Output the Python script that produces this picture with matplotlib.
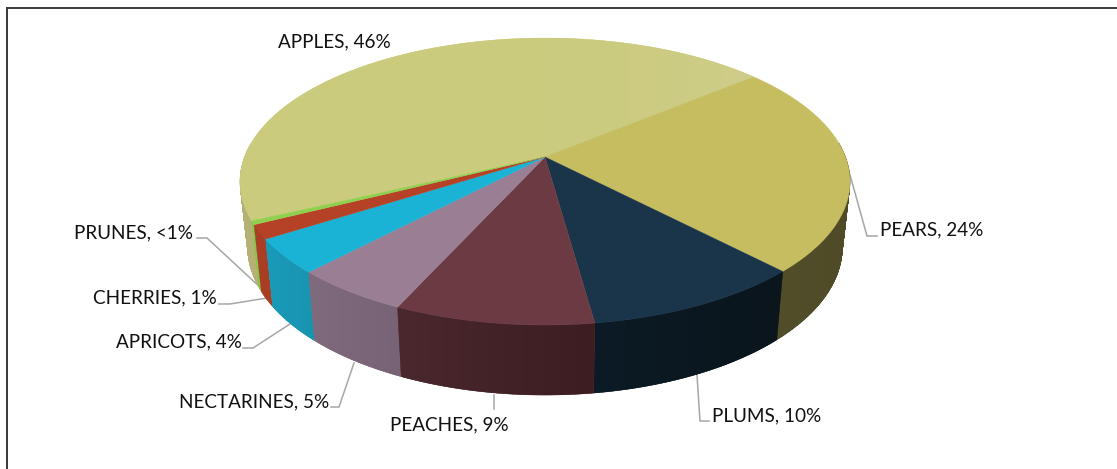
import numpy as np
import matplotlib
matplotlib.use("Agg")
import matplotlib.pyplot as plt
from matplotlib.colors import to_rgb
from matplotlib.patches import PathPatch
from matplotlib.path import Path

plt.rcParams['font.family'] = ['Lato', 'DejaVu Sans']

categories = ["APPLES", "PEARS", "PLUMS", "PEACHES", "NECTARINES", "APRICOTS", "CHERRIES", "PRUNES"]
values = [46.0, 23.8, 10.0, 9.0, 5.3, 3.9, 1.6, 0.4]
value_labels = ["46%", "24%", "10%", "9%", "5%", "4%", "1%", "<1%"]

# colours at the right and the left end of each face
top_right = ["#CFCD8A", "#C5BD60", "#1A344A", "#6B3A43", "#9A7E94", "#1AB3D5", "#B54226", "#8FD14F"]
top_left = ["#CBCB7E", "#C5BD60", "#1A344A", "#6B3A43", "#9A7E94", "#1AB3D5", "#B54226", "#8FD14F"]
side_right = ["#B5B175", "#4F4B28", "#0A151C", "#3D1D20", "#786275", "#1894B0", "#A83E23", "#85C64B"]
side_left = ["#B5B175", "#524E2A", "#0C1B25", "#4A282E", "#7F6A7E", "#1A9BBA", "#A83E23", "#85C64B"]

# layout: label text anchor (left, centre y) and leader polyline in pixels
label_pos = {"APPLES": (278, 41), "PEARS": (880, 229), "PLUMS": (712, 415), "PEACHES": (390, 424),
             "NECTARINES": (179, 401), "APRICOTS": (116, 341), "CHERRIES": (93, 297), "PRUNES": (74, 232)}
leaders = {"PEARS": [(847, 164), (867, 236), (877, 236)],
           "PLUMS": [(697, 375), (700, 421), (709, 421)],
           "PEACHES": [(494, 395), (494, 409)],
           "NECTARINES": [(354, 363), (339, 407), (331, 407)],
           "APRICOTS": [(290, 324), (253, 348), (243, 348)],
           "CHERRIES": [(267, 298), (230, 304), (219, 304)],
           "PRUNES": [(262, 289), (207, 238), (197, 238)]}

W, H = 1117, 469
fig = plt.figure(figsize=(W / 100, H / 100), dpi=100)
ax = fig.add_axes([0, 0, 1, 1])

cx, cy = 545.0, 157.0
a, b, k = 300.5, 139.3, 0.171
start = 205.2


def top_xy(t):
    s, c = np.sin(t), np.cos(t)
    w = 1 + k * s
    return cx + a * c / w, cy - b * s / w


def bot_xy(t):
    x, y = top_xy(t)
    return cx + 0.975 * (x - cx), 222 + 1.03 * (y - cy)


def ring(pts):
    """Closed sub-path, always wound the same way so that quads add up."""
    p = np.asarray(pts, float)
    area = np.sum(p[:, 0] * np.roll(p[:, 1], -1) - np.roll(p[:, 0], -1) * p[:, 1])
    return p if area > 0 else p[::-1]


def shaded(rings, left, right, z, power=1.0):
    verts, codes = [], []
    for r in rings:
        verts.extend(r)
        verts.append(r[0])
        codes.extend([Path.MOVETO] + [Path.LINETO] * (len(r) - 1) + [Path.CLOSEPOLY])
    path = Path(verts, codes)
    patch = PathPatch(path, facecolor=left, edgecolor=left, lw=0.3, zorder=z)
    ax.add_patch(patch)
    if left == right:
        return
    v = np.array(verts)
    c1, c2 = np.array(to_rgb(left)), np.array(to_rgb(right))
    f = np.linspace(0, 1, 256)[None, :, None] ** power
    img = c1 + (c2 - c1) * f
    im = ax.imshow(img, extent=(v[:, 0].min(), v[:, 0].max(), v[:, 1].max(), v[:, 1].min()),
                   origin="upper", aspect="auto", zorder=z + 0.001, interpolation="bilinear")
    im.set_clip_path(patch)


fracs = np.array(values) / sum(values)
edges = start - np.concatenate([[0], np.cumsum(fracs) * 360])

# side walls (only the part that faces the viewer), then the top face
order = sorted(range(len(values)), key=lambda i: -np.sin(np.radians((edges[i] + edges[i + 1]) / 2)))
for rank, i in enumerate(order):
    n = max(3, int(abs(edges[i] - edges[i + 1]) / 0.5))
    tt = np.radians(np.linspace(edges[i], edges[i + 1], n + 1))
    quads = []
    for j in range(n):
        if np.sin(tt[j]) > 0.1 and np.sin(tt[j + 1]) > 0.1:
            continue
        quads.append(ring([top_xy(tt[j]), top_xy(tt[j + 1]), bot_xy(tt[j + 1]), bot_xy(tt[j])]))
    shaded(quads, side_left[i], side_right[i], 2 + rank * 0.01)

for i in range(len(values)):
    tt = np.radians(np.linspace(edges[i], edges[i + 1], 200))
    xt, yt = top_xy(tt)
    wedge = np.column_stack([np.concatenate([[cx], xt]), np.concatenate([[cy], yt])])
    shaded([ring(wedge)], top_left[i], top_right[i], 3 + i * 0.01, power=5.0)

for name, pts in leaders.items():
    ax.plot(*zip(*pts), color="#A6A6A6", lw=1.1, zorder=1, solid_joinstyle="miter")

for name, val in zip(categories, value_labels):
    x, y = label_pos[name]
    ax.text(x, y + 1.0, f"{name}, {val}", ha="left", va="center", fontsize=13.6, color="#111111", zorder=5)

# chart frame: left and top only are inside the crop
ax.plot([7, 7, W], [H, 8, 8], color="#3A3A3A", lw=1.4, zorder=6, solid_joinstyle="miter")

ax.set_xlim(0, W)
ax.set_ylim(H, 0)
ax.axis("off")

fig.savefig("out.png", dpi=100)
